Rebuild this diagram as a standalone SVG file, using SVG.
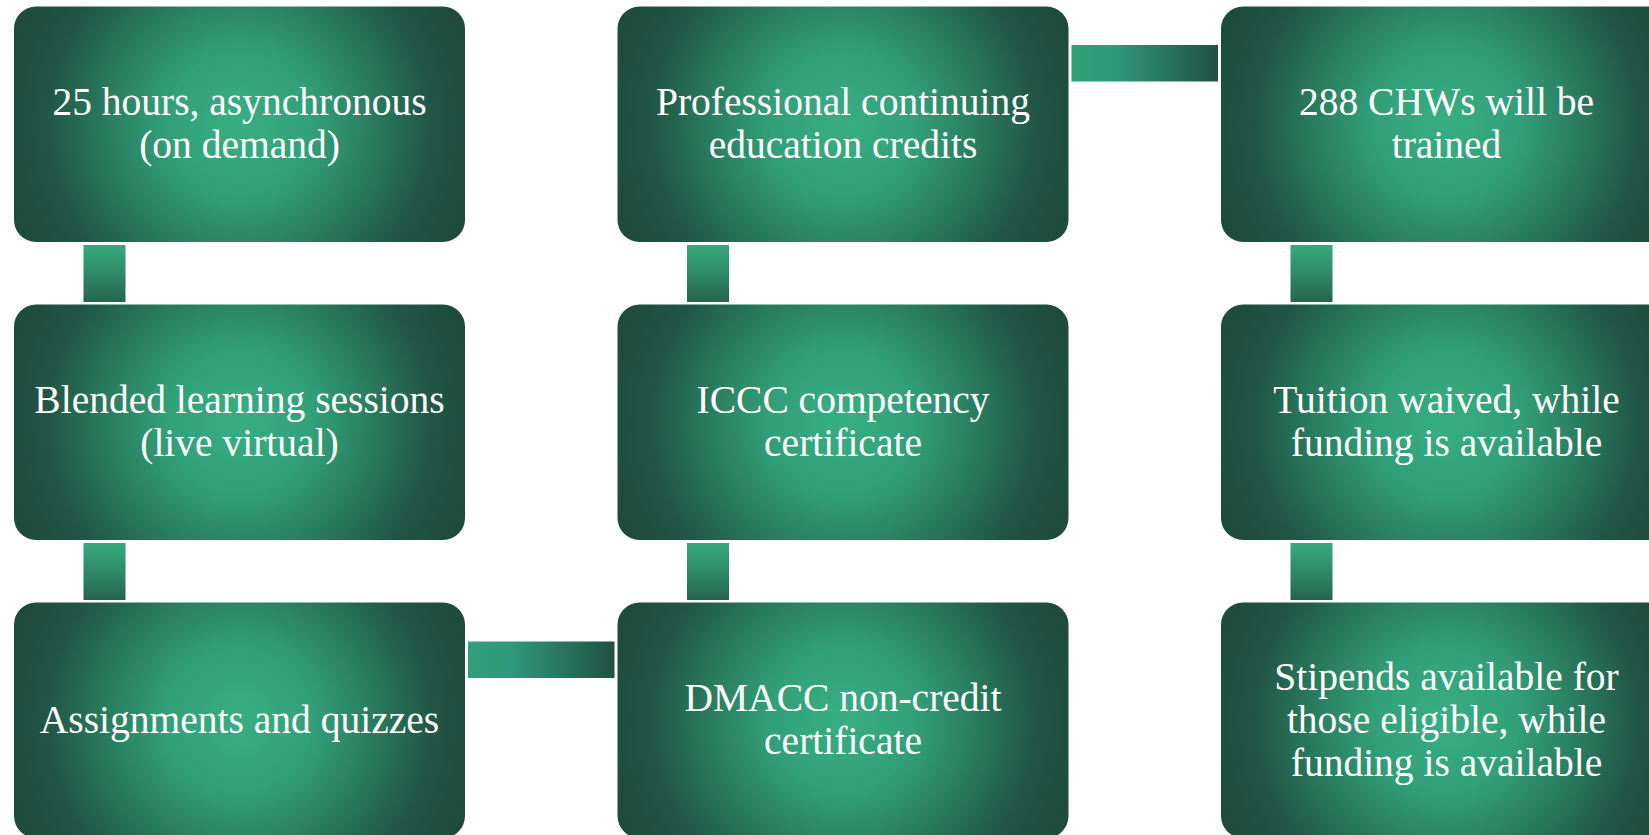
<svg xmlns="http://www.w3.org/2000/svg" width="1649" height="835" viewBox="0 0 1649 835">
<defs>
<radialGradient id="boxGrad" gradientUnits="userSpaceOnUse" cx="225.5" cy="117.75" r="240">
<stop offset="0" stop-color="#37AE82"/>
<stop offset="0.3" stop-color="#32A079"/>
<stop offset="0.55" stop-color="#2A7D5F"/>
<stop offset="0.8" stop-color="#215646"/>
<stop offset="1" stop-color="#1E4B3C"/>
</radialGradient>
<linearGradient id="vGrad" x1="0" y1="0" x2="0" y2="1">
<stop offset="0" stop-color="#36AA7F"/>
<stop offset="0.5" stop-color="#2E8A68"/>
<stop offset="1" stop-color="#25634D"/>
</linearGradient>
<linearGradient id="hGrad" x1="0" y1="0" x2="1" y2="0">
<stop offset="0" stop-color="#31A078"/>
<stop offset="0.3" stop-color="#30987A"/>
<stop offset="0.7" stop-color="#27705A"/>
<stop offset="1" stop-color="#1F5141"/>
</linearGradient>
</defs>
<style>
.box{fill:url(#boxGrad);}
.lbl{font-family:"Liberation Serif","Times New Roman",serif;font-size:39.5px;fill:#ffffff;text-anchor:middle;}
.vc{fill:url(#vGrad);}
.hc{fill:url(#hGrad);}
</style>
<rect width="1649" height="835" fill="#ffffff"/>
<g id="connectors">
<rect class="vc" x="83.5" y="245" width="42" height="57"/>
<rect class="vc" x="83.5" y="543" width="42" height="57"/>
<rect class="vc" x="687" y="245" width="42" height="57"/>
<rect class="vc" x="687" y="543" width="42" height="57"/>
<rect class="vc" x="1290.5" y="245" width="42" height="57"/>
<rect class="vc" x="1290.5" y="543" width="42" height="57"/>
<rect class="hc" x="1071.5" y="45" width="146.5" height="36.5"/>
<rect class="hc" x="468" y="641.5" width="146.5" height="36.5"/>
</g>
<g id="n1" transform="translate(14,6.5)">
<rect class="box" width="451" height="235.5" rx="22"/>
<text class="lbl" x="225.5" y="108.75">25 hours, asynchronous</text>
<text class="lbl" x="225.5" y="151.75">(on demand)</text>
</g>
<g id="n2" transform="translate(14,304.5)">
<rect class="box" width="451" height="235.5" rx="22"/>
<text class="lbl" x="225.5" y="108.75">Blended learning sessions</text>
<text class="lbl" x="225.5" y="151.75">(live virtual)</text>
</g>
<g id="n3" transform="translate(14,602.5)">
<rect class="box" width="451" height="235.5" rx="22"/>
<text class="lbl" x="225.5" y="130.25">Assignments and quizzes</text>
</g>
<g id="n4" transform="translate(617.5,602.5)">
<rect class="box" width="451" height="235.5" rx="22"/>
<text class="lbl" x="225.5" y="108.75">DMACC non-credit</text>
<text class="lbl" x="225.5" y="151.75">certificate</text>
</g>
<g id="n5" transform="translate(617.5,304.5)">
<rect class="box" width="451" height="235.5" rx="22"/>
<text class="lbl" x="225.5" y="108.75">ICCC competency</text>
<text class="lbl" x="225.5" y="151.75">certificate</text>
</g>
<g id="n6" transform="translate(617.5,6.5)">
<rect class="box" width="451" height="235.5" rx="22"/>
<text class="lbl" x="225.5" y="108.75">Professional continuing</text>
<text class="lbl" x="225.5" y="151.75">education credits</text>
</g>
<g id="n7" transform="translate(1221,6.5)">
<rect class="box" width="451" height="235.5" rx="22"/>
<text class="lbl" x="225.5" y="108.75">288 CHWs will be</text>
<text class="lbl" x="225.5" y="151.75">trained</text>
</g>
<g id="n8" transform="translate(1221,304.5)">
<rect class="box" width="451" height="235.5" rx="22"/>
<text class="lbl" x="225.5" y="108.75">Tuition waived, while</text>
<text class="lbl" x="225.5" y="151.75">funding is available</text>
</g>
<g id="n9" transform="translate(1221,602.5)">
<rect class="box" width="451" height="235.5" rx="22"/>
<text class="lbl" x="225.5" y="87.25">Stipends available for</text>
<text class="lbl" x="225.5" y="130.25">those eligible, while</text>
<text class="lbl" x="225.5" y="173.25">funding is available</text>
</g>
</svg>
